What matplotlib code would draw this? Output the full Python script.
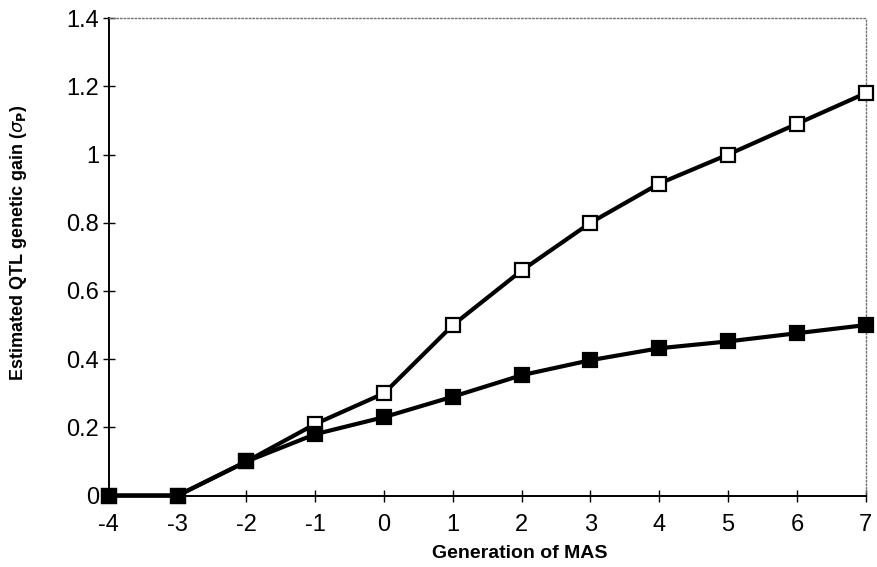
import matplotlib.pyplot as plt
import numpy as np

plt.rcParams['font.family'] = ['Liberation Sans', 'DejaVu Sans']
plt.rcParams['axes.unicode_minus'] = False

# Data
generation = [-4, -3, -2, -1, 0, 1, 2, 3, 4, 5, 6, 7]
gain_open = [0.0, 0.0, 0.10, 0.21, 0.30, 0.50, 0.66, 0.80, 0.915, 1.00, 1.09, 1.18]
gain_filled = [0.0, 0.0, 0.10, 0.18, 0.23, 0.29, 0.353, 0.397, 0.432, 0.452, 0.476, 0.50]

fig = plt.figure(figsize=(8.78, 5.67), dpi=100)
ax = fig.add_axes([0.124, 0.126, 0.862, 0.842])

ax.plot(generation, gain_open, color='black', lw=3, marker='s', ms=10,
        mfc='white', mec='black', mew=1.6, clip_on=False, zorder=3)
ax.plot(generation, gain_filled, color='black', lw=3, marker='s', ms=10,
        mfc='black', mec='black', mew=1.6, clip_on=False, zorder=4)

ax.set_xlim(-4, 7)
ax.set_ylim(0, 1.4)
ax.set_xticks(generation)
ax.set_yticks([0, 0.2, 0.4, 0.6, 0.8, 1.0, 1.2, 1.4])
ax.set_yticklabels(['0', '0.2', '0.4', '0.6', '0.8', '1', '1.2', '1.4'])

# Spines: solid left/bottom, dotted grey top/right
for s in ['top', 'right']:
    ax.spines[s].set_linestyle(':')
    ax.spines[s].set_color('0.45')
    ax.spines[s].set_linewidth(1)
for s in ['left', 'bottom']:
    ax.spines[s].set_linewidth(1.4)

ax.tick_params(direction='inout', length=8, width=1, labelsize=17)
ax.tick_params(axis='x', pad=9)
ax.tick_params(axis='y', pad=3)

ax.set_xlabel('Generation of MAS', fontsize=14, fontweight='bold')
ax.set_ylabel(r'Estimated QTL genetic gain ($\sigma_\mathbf{P}$)', fontsize=13,
              fontweight='bold')
ax.xaxis.set_label_coords(0.543, -0.103)
ax.yaxis.set_label_coords(-0.106, 0.53)

fig.savefig('out.png', dpi=100)
